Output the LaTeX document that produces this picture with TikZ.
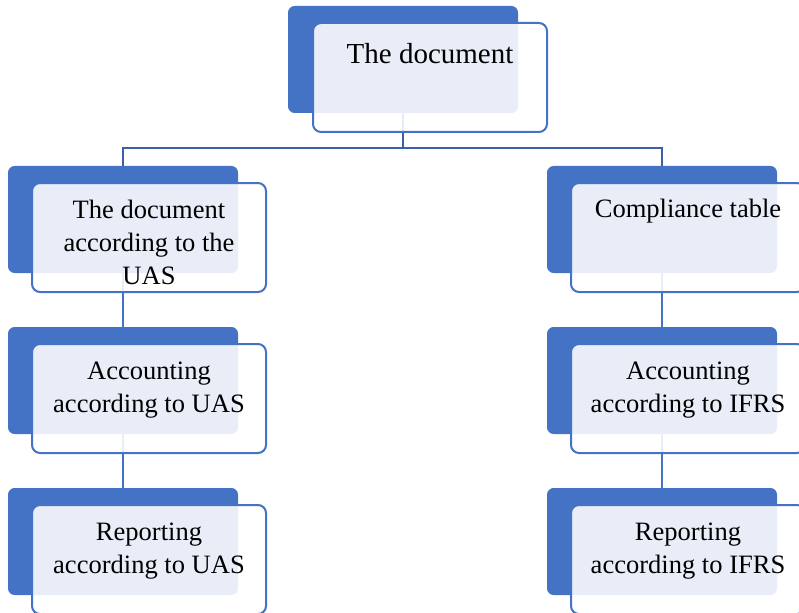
\documentclass[tikz,border=0pt]{standalone}
\usepackage{fontspec}
\setmainfont{Liberation Serif}
\usetikzlibrary{positioning,backgrounds}
\definecolor{accent}{HTML}{4472C4}
\definecolor{linkblue}{HTML}{3B5FAA}

\begin{document}
\begin{tikzpicture}[
  x=0.75pt, y=-0.75pt,
  backbox/.style={fill=accent, rounded corners=5pt, minimum width=172.5pt, minimum height=80.25pt, inner sep=0pt, outer sep=0pt},
  frontbox/.style={draw=accent, line width=1.5pt, fill=white, fill opacity=0.88, rounded corners=6pt, minimum width=175.5pt, minimum height=81.75pt, inner sep=0pt, outer sep=0pt},
  caption/.style={align=center, inner sep=0pt, font=\fontsize{19.9}{24.75}\selectfont},
  link/.style={draw=accent, line width=1.5pt},
  toplink/.style={draw=linkblue, line width=1.6pt}
]
\useasboundingbox (0,0) rectangle (799,613);

% root
\node[backbox, anchor=north west] (docback) at (288,6) {};
\node[frontbox, below right=12.75pt and 18.75pt of docback.north west] (doc) {};
\node[caption, font=\fontsize{21.75}{27}\selectfont, below=15pt of doc.north] (doctxt) {The document};

% UAS column
\node[backbox, anchor=north west] (uasback) at (8,166) {};
\node[backbox, below=40.5pt of uasback] (accuasback) {};
\node[backbox, below=40.5pt of accuasback] (repuasback) {};
\node[frontbox, below right=12.75pt and 18pt of uasback.north west] (uas) {};
\node[frontbox, below right=12.75pt and 18pt of accuasback.north west] (accuas) {};
\node[frontbox, below right=12.75pt and 18pt of repuasback.north west] (repuas) {};
\node[caption, below=12.75pt of uas.north] (uastxt) {The document\\according to the\\UAS};
\node[caption, below=13.5pt of accuas.north] (accuastxt) {Accounting\\according to UAS};
\node[caption, below=13.5pt of repuas.north] (repuastxt) {Reporting\\according to UAS};

% IFRS column
\node[backbox, right=231.75pt of uasback] (cmpback) {};
\node[backbox, below=40.5pt of cmpback] (accifrsback) {};
\node[backbox, below=40.5pt of accifrsback] (repifrsback) {};
\node[frontbox, below right=12.75pt and 18pt of cmpback.north west] (cmp) {};
\node[frontbox, below right=12.75pt and 18pt of accifrsback.north west] (accifrs) {};
\node[frontbox, below right=12.75pt and 18pt of repifrsback.north west] (repifrs) {};
\node[caption, below=12pt of cmp.north] (cmptxt) {Compliance table};
\node[caption, below=13.5pt of accifrs.north] (accifrstxt) {Accounting\\according to IFRS};
\node[caption, below=13.5pt of repifrs.north] (repifrstxt) {Reporting\\according to IFRS};

\begin{scope}[on background layer]
\draw[toplink] (docback.south) -- ++(0,35) -| (uasback.north);
\draw[toplink] (docback.south) -- ++(0,35) -| (cmpback.north);
\draw[link] (uasback) -- (accuasback);
\draw[link] (accuasback) -- (repuasback);
\draw[link] (cmpback) -- (accifrsback);
\draw[link] (accifrsback) -- (repifrsback);
\end{scope}
\end{tikzpicture}
\end{document}
